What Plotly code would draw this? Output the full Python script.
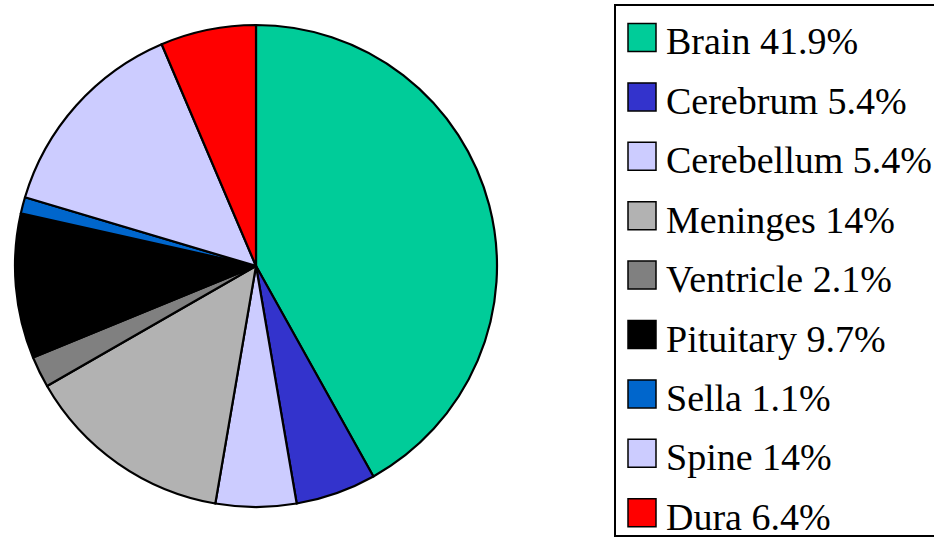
import plotly.graph_objects as go

labels = ["Brain", "Cerebrum", "Cerebellum", "Meninges", "Ventricle",
          "Pituitary", "Sella", "Spine", "Dura"]
values = [41.9, 5.4, 5.4, 14, 2.1, 9.7, 1.1, 14, 6.4]
value_text = ["41.9%", "5.4%", "5.4%", "14%", "2.1%", "9.7%", "1.1%", "14%", "6.4%"]
colors = ["#00CC99", "#3333CC", "#CCCCFF", "#B2B2B2", "#808080",
          "#000000", "#0066CC", "#CCCCFF", "#FF0000"]

W, H = 934, 538
cx, cy, r = 256, 266, 241

fig = go.Figure(go.Pie(
    labels=labels, values=values, sort=False, direction="clockwise",
    rotation=0, textinfo="none", hoverinfo="label+percent",
    marker=dict(colors=colors, line=dict(color="black", width=2.2)),
    domain=dict(x=[(cx - r) / W, (cx + r) / W],
                y=[(H - cy - r) / H, (H - cy + r) / H]),
    showlegend=False,
))

shapes = [dict(type="rect", xref="paper", yref="paper",
               x0=615 / W, x1=945 / W, y0=1 - 536 / H, y1=1 - 5 / H,
               line=dict(color="black", width=2), fillcolor="rgba(0,0,0,0)")]
annotations = []
y_first, step = 37.5, 59.4
for i, (lab, vt, col) in enumerate(zip(labels, value_text, colors)):
    yc = y_first + i * step
    shapes.append(dict(type="rect", xref="paper", yref="paper",
                       x0=628 / W, x1=656 / W,
                       y0=1 - (yc + 14) / H, y1=1 - (yc - 14) / H,
                       line=dict(color="black", width=1.5), fillcolor=col))
    annotations.append(dict(xref="paper", yref="paper", x=664 / W, y=1 - (yc + 4) / H,
                            xanchor="left", yanchor="middle", showarrow=False,
                            text=f"{lab} {vt}",
                            font=dict(family="Liberation Serif", size=38, color="black")))

fig.update_layout(width=W, height=H, margin=dict(l=0, r=0, t=0, b=0),
                  paper_bgcolor="white", plot_bgcolor="white",
                  shapes=shapes, annotations=annotations)
fig.write_html("out.html", config={"displayModeBar": False},
               post_script="document.body.style.margin='0';document.body.style.overflow='hidden';")
